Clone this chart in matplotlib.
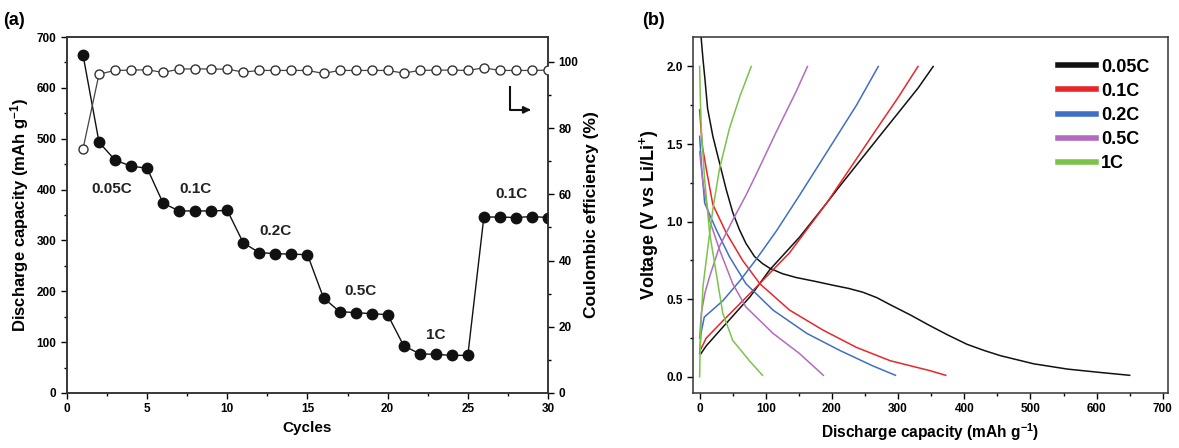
import matplotlib
matplotlib.use('Agg')
import matplotlib.pyplot as plt
from matplotlib.ticker import MultipleLocator
import numpy as np

plt.rcParams['font.family'] = ['Liberation Sans', 'DejaVu Sans']
plt.rcParams['mathtext.fontset'] = 'custom'
plt.rcParams['mathtext.rm'] = 'Liberation Sans:bold'
plt.rcParams['mathtext.bf'] = 'Liberation Sans:bold'
plt.rcParams['mathtext.default'] = 'bf'

#panel (a) data: rate capability
cycles = np.arange(1, 31)
capacity = [665, 493, 458, 446, 442, 373, 358, 358, 358, 359,
            295, 276, 274, 273, 272, 187, 160, 158, 156, 154,
            93, 77, 76, 74, 74, 346, 346, 345, 347, 345]
efficiency = [73.7, 96.3, 97.4, 97.5, 97.6, 96.8, 97.8, 97.9, 97.8, 97.8,
              96.9, 97.4, 97.4, 97.4, 97.4, 96.5, 97.4, 97.4, 97.4, 97.4,
              96.6, 97.4, 97.5, 97.5, 97.4, 98.2, 97.4, 97.4, 97.4, 97.5]
rate_labels = ['0.05C', '0.1C', '0.2C', '0.5C', '1C', '0.1C']
rate_x = [2.8, 8.0, 13.0, 18.3, 23.0, 27.7]
rate_y = [402, 402, 318, 200, 115, 392]

#panel (b) data: discharge / charge profiles
rates = ['0.05C', '0.1C', '0.2C', '0.5C', '1C']
colors = ['#111111', '#e8262a', '#3f6fc4', '#b36bbf', '#7dc24b']
dis_x = [
    [2, 5, 8, 12, 20, 30, 40, 50, 60, 70, 83, 95, 106, 125, 146, 175, 202, 225, 247,
     268, 288, 318, 348, 375, 404, 430, 455, 480, 505, 556, 606, 650],
    [0, 2, 4, 10, 20, 40, 65, 91, 136, 187, 237, 288, 348, 372],
    [0, 3, 7.6, 25, 45, 70, 111, 162, 212, 262, 296],
    [0, 5, 15, 30, 50, 70, 111, 151, 187],
    [0, 1, 2.5, 7.6, 15, 25, 35, 50, 76, 95],
]
dis_v = [
    [2.2, 2.05, 1.92, 1.73, 1.55, 1.38, 1.21, 1.06, 0.95, 0.86, 0.775, 0.73, 0.70, 0.665,
     0.64, 0.615, 0.59, 0.57, 0.545, 0.51, 0.465, 0.40, 0.33, 0.27, 0.21, 0.17, 0.136,
     0.11, 0.084, 0.05, 0.028, 0.01],
    [1.72, 1.6, 1.49, 1.34, 1.11, 0.93, 0.75, 0.60, 0.43, 0.30, 0.19, 0.104, 0.04, 0.01],
    [1.55, 1.35, 1.12, 0.95, 0.775, 0.60, 0.43, 0.28, 0.17, 0.07, 0.01],
    [1.45, 1.25, 1.01, 0.82, 0.60, 0.45, 0.28, 0.15, 0.01],
    [2.0, 1.8, 1.6, 1.27, 0.93, 0.67, 0.41, 0.235, 0.10, 0.01],
]
chg_x = [
    [2, 10, 35, 76, 106, 151, 192, 212, 240, 268, 300, 330, 353],
    [2, 10, 35, 86, 136, 192, 230, 268, 300, 330],
    [0, 2, 7, 35, 61, 86, 116, 151, 197, 237, 270],
    [0, 2.5, 8, 15, 30, 50, 70, 86, 116, 146, 163],
    [0, 0.5, 1.5, 5, 12, 20, 30, 45, 61, 78],
]
chg_v = [
    [0.15, 0.2, 0.32, 0.515, 0.69, 0.90, 1.12, 1.23, 1.38, 1.53, 1.70, 1.86, 2.0],
    [0.18, 0.25, 0.36, 0.58, 0.80, 1.12, 1.36, 1.60, 1.80, 2.0],
    [0.15, 0.28, 0.385, 0.49, 0.62, 0.76, 0.94, 1.17, 1.48, 1.75, 2.0],
    [0.25, 0.41, 0.54, 0.645, 0.84, 1.01, 1.17, 1.31, 1.58, 1.84, 2.0],
    [0.0, 0.12, 0.28, 0.58, 0.82, 1.08, 1.34, 1.6, 1.81, 2.0],
]

fig = plt.figure(figsize=(11.79, 4.48), dpi=100)

#---------------- panel (a)
ax1 = fig.add_axes([0.0568, 0.1228, 0.408, 0.7946])
ax1.plot(cycles, capacity, '-o', color='#111111', lw=1, ms=7.5, zorder=3)
ax1.set_xlim(0, 30)
ax1.set_ylim(0, 700)
ax1.xaxis.set_major_locator(MultipleLocator(5))
ax1.xaxis.set_minor_locator(MultipleLocator(2.5))
ax1.yaxis.set_major_locator(MultipleLocator(100))
ax1.yaxis.set_minor_locator(MultipleLocator(50))
ax1.set_xlabel('Cycles', fontsize=11, fontweight='bold')
ax1.set_ylabel('Discharge capacity (mAh g$^{-1}$)', fontsize=12, fontweight='bold')
for lab, x, y in zip(rate_labels, rate_x, rate_y):
    ax1.text(x, y, lab, fontsize=11, fontweight='bold', ha='center', va='center', color='#222222')

ax2 = ax1.twinx()
ax2.plot(cycles, efficiency, '-o', color='#444444', mfc='white', mec='#333333',
         lw=0.9, ms=6.5, mew=1.0, zorder=3)
ax2.set_ylim(0, 107.5)
ax2.yaxis.set_major_locator(MultipleLocator(20))
ax2.yaxis.set_minor_locator(MultipleLocator(10))
ax2.set_ylabel('Coulombic efficiency (%)', fontsize=12.5, fontweight='bold')
#L-shaped arrow pointing to right axis
ax2.plot([27.6, 27.6, 28.7], [92.4, 85.5, 85.5], color='#111111', lw=1.5)
ax2.annotate('', xy=(29.1, 85.5), xytext=(28.5, 85.5),
             arrowprops=dict(arrowstyle='-|>', color='#111111', lw=1.5, mutation_scale=10))

for ax in (ax1, ax2):
    ax.tick_params(which='both', direction='out', labelsize=8.5, width=1)
    ax.tick_params(which='major', length=4)
    ax.tick_params(which='minor', length=2.5)
    for s in ax.spines.values():
        s.set_linewidth(1.1)
        s.set_color('#333333')
    for t in ax.get_xticklabels() + ax.get_yticklabels():
        t.set_fontweight('bold')
ax1.tick_params(which='both', top=False, right=False)

fig.text(0.003, 0.955, '(a)', fontsize=13, fontweight='bold', va='center')

#---------------- panel (b)
ax3 = fig.add_axes([0.5878, 0.1228, 0.4029, 0.7946])
for i in range(len(rates)):
    ax3.plot(dis_x[i], dis_v[i], color=colors[i], lw=1.1, label=rates[i])
    ax3.plot(chg_x[i], chg_v[i], color=colors[i], lw=1.1)
ax3.set_xlim(-10, 708)
ax3.set_ylim(-0.104, 2.19)
ax3.xaxis.set_major_locator(MultipleLocator(100))
ax3.xaxis.set_minor_locator(MultipleLocator(50))
ax3.yaxis.set_major_locator(MultipleLocator(0.5))
ax3.yaxis.set_minor_locator(MultipleLocator(0.25))
ax3.set_xlabel('Discharge capacity (mAh g$^{-1}$)', fontsize=11.2, fontweight='bold')
ax3.set_ylabel('Voltage (V vs Li/Li$^{+}$)', fontsize=13, fontweight='bold')
ax3.tick_params(which='both', direction='out', labelsize=8.5, width=1, top=False, right=False)
ax3.tick_params(which='major', length=4)
ax3.tick_params(which='minor', length=2.5)
for s in ax3.spines.values():
    s.set_linewidth(1.1)
    s.set_color('#333333')
for t in ax3.get_xticklabels() + ax3.get_yticklabels():
    t.set_fontweight('bold')
leg = ax3.legend(loc='upper right', frameon=False, fontsize=13, handlelength=2.1,
                 handletextpad=0.3, labelspacing=0.4, bbox_to_anchor=(0.995, 0.985))
for h in leg.get_lines():
    h.set_linewidth(4)
for t in leg.get_texts():
    t.set_fontweight('bold')

fig.text(0.545, 0.955, '(b)', fontsize=13, fontweight='bold', va='center')

fig.savefig('out.png', dpi=100)
